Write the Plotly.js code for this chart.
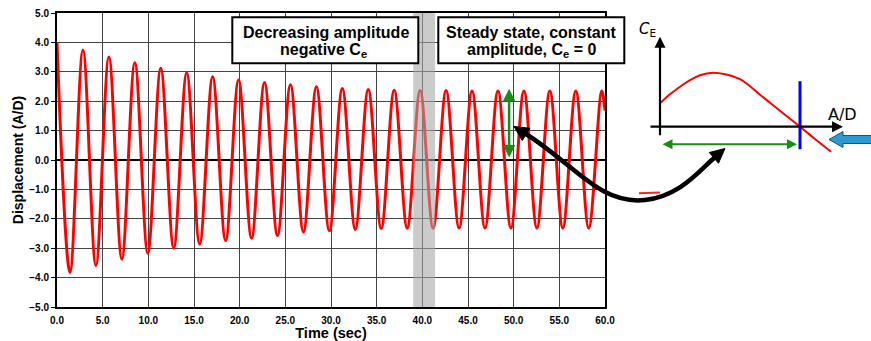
<!DOCTYPE html>
<html>
<head>
<meta charset="utf-8">
<script src="https://cdn.plot.ly/plotly-3.0.1.min.js"></script>
<style>html,body{margin:0;padding:0;background:#fff;}#chart{width:871px;height:341px;}</style>
</head>
<body>
<div id="chart"></div>
<script>
// ---- Data ----
// Times (s) of the successive peaks/troughs of the response, plus the final sample
const timeSec = [0, 1.42, 2.84, 4.26, 5.68, 7.10, 8.52, 9.94, 11.36, 12.78, 14.20, 15.62,
  17.04, 18.46, 19.88, 21.30, 22.72, 24.14, 25.56, 26.98, 28.40, 29.82, 31.24, 32.66,
  34.08, 35.50, 36.92, 38.34, 39.76, 41.18, 42.60, 44.02, 45.44, 46.86, 48.28, 49.70,
  51.12, 52.54, 53.96, 55.38, 56.80, 58.22, 59.64, 60.0];
// Displacement (A/D) at those times
const displacement = [4.00, -3.83, 3.74, -3.59, 3.50, -3.37, 3.31, -3.17, 3.12, -3.00, 2.97, -2.86,
  2.83, -2.74, 2.72, -2.66, 2.64, -2.57, 2.56, -2.45, 2.49, -2.41, 2.43, -2.36,
  2.40, -2.33, 2.37, -2.32, 2.36, -2.32, 2.36, -2.31, 2.35, -2.31, 2.35, -2.31,
  2.35, -2.31, 2.35, -2.31, 2.35, -2.31, 2.35, 1.68];
// Inset: C_E versus A/D curve
const insetAD = [0.0, 0.1, 0.2, 0.3, 0.4, 0.53, 0.65, 0.8, 0.9, 1.0, 1.1, 1.2, 1.3, 1.4, 1.55, 1.71];
const insetCE = [0.47, 0.65, 0.80, 0.93, 1.03, 1.08, 1.05, 0.95, 0.81, 0.64, 0.48, 0.32, 0.16, 0.0, -0.245, -0.50];
// Tick settings / labels
const xTickStep = 5, yTickStep = 1;
const box1Lines = ['Decreasing amplitude', 'negative C<sub>e</sub>'];
const box2Lines = ['Steady state, constant', 'amplitude, C<sub>e</sub> = 0'];

// ---- Layout helpers (pixel -> paper) ----
const L = 57, T = 13, PW = 871 - L, PH = 294;
const px = p => (p - L) / PW;
const py = p => (T + PH - p) / PH;
const P = (x, y) => px(x).toFixed(5) + ',' + py(y).toFixed(5);

const boldFont = {family: 'Liberation Sans, Arial, sans-serif', color: '#000', weight: 700};

const traces = [
  {x: timeSec, y: displacement, type: 'scatter', mode: 'lines',
   line: {color: '#ff0000', width: 3, shape: 'spline', smoothing: 1},
   xaxis: 'x', yaxis: 'y', hoverinfo: 'skip'},
  {x: insetAD, y: insetCE, type: 'scatter', mode: 'lines',
   line: {color: '#ff0000', width: 2, shape: 'spline', smoothing: 1},
   xaxis: 'x2', yaxis: 'y2', hoverinfo: 'skip'}
];

const shapes = [
  // grey band
  {type: 'rect', xref: 'x', yref: 'y', x0: 39.0, x1: 41.4, y0: -5, y1: 5,
   fillcolor: 'rgba(165,165,165,0.58)', line: {width: 0}, layer: 'above'},
  // text boxes
  {type: 'rect', xref: 'paper', yref: 'paper', x0: px(232.3), x1: px(418.3), y0: py(17.3), y1: py(63.3),
   fillcolor: '#fff', line: {color: '#000', width: 2}, layer: 'above'},
  {type: 'rect', xref: 'paper', yref: 'paper', x0: px(438.3), x1: px(624.3), y0: py(17.3), y1: py(63.3),
   fillcolor: '#fff', line: {color: '#000', width: 2}, layer: 'above'},
  // inset blue vertical line
  {type: 'line', xref: 'x2', yref: 'y2', x0: 1.4, x1: 1.4, y0: 0.91, y1: -0.45,
   line: {color: '#0000ff', width: 3}},
  // stray red dash
  {type: 'line', xref: 'paper', yref: 'paper', x0: px(639), y0: py(193.3), x1: px(660), y1: py(192.6),
   line: {color: '#ff2020', width: 2}},
  // black curved arrow
  {type: 'path', xref: 'paper', yref: 'paper',
   path: 'M ' + P(526, 134) + ' C ' + P(575, 165) + ' ' + P(600, 205) + ' ' + P(645, 200) +
         ' C ' + P(680, 196) + ' ' + P(699, 171) + ' ' + P(714, 158),
   line: {color: '#000', width: 4.5}},
  {type: 'path', xref: 'paper', yref: 'paper',
   path: 'M ' + P(514, 126.5) + ' L ' + P(530, 128.3) + ' L ' + P(522.3, 140.5) + ' Z',
   fillcolor: '#000', line: {color: '#000', width: 1}},
  {type: 'path', xref: 'paper', yref: 'paper',
   path: 'M ' + P(725, 148.5) + ' L ' + P(718.5, 163.3) + ' L ' + P(709.3, 152.5) + ' Z',
   fillcolor: '#000', line: {color: '#000', width: 1}},
  // blue block arrow
  {type: 'path', xref: 'paper', yref: 'paper',
   path: 'M ' + P(829, 139.5) + ' L ' + P(843, 131.5) + ' L ' + P(843, 135.5) + ' L ' + P(873, 135.5) +
         ' L ' + P(873, 143.5) + ' L ' + P(843, 143.5) + ' L ' + P(843, 147.5) + ' Z',
   fillcolor: '#2a9bd0', line: {color: '#1f4f78', width: 1}}
];

const boxText = (txt, cx, cy) => ({xref: 'paper', yref: 'paper', x: px(cx), y: py(cy),
  xanchor: 'center', yanchor: 'middle', text: txt, showarrow: false,
  font: Object.assign({size: 16}, boldFont)});

const annotations = [
  boxText(box1Lines[0], 325.5, 32.3),
  boxText(box1Lines[1], 323.5, 50.3),
  boxText(box2Lines[0], 531, 32.3),
  boxText(box2Lines[1], 531.5, 50.3),
  // green amplitude arrow in main plot
  {xref: 'x', yref: 'y', axref: 'x', ayref: 'y', x: 49.5, y: 2.42, ax: 49.5, ay: 0.03,
   text: '', showarrow: true, arrowside: 'end+start', arrowhead: 2, arrowsize: 1,
   arrowwidth: 2.5, arrowcolor: '#1a8c1a', standoff: 0, startstandoff: 0},
  // inset axes
  {xref: 'x2', yref: 'y2', axref: 'x2', ayref: 'y2', x: 0, y: 1.80, ax: 0, ay: -0.2,
   text: '', showarrow: true, arrowhead: 2, arrowsize: 1, arrowwidth: 2.2, arrowcolor: '#000', standoff: 0},
  {xref: 'x2', yref: 'y2', axref: 'x2', ayref: 'y2', x: 1.83, y: 0, ax: -0.11, ay: 0,
   text: '', showarrow: true, arrowhead: 2, arrowsize: 1, arrowwidth: 2.2, arrowcolor: '#000', standoff: 0},
  // inset green arrow
  {xref: 'x2', yref: 'y2', axref: 'x2', ayref: 'y2', x: 1.37, y: -0.35, ax: 0.01, ay: -0.35,
   text: '', showarrow: true, arrowside: 'end+start', arrowhead: 2, arrowsize: 1,
   arrowwidth: 2, arrowcolor: '#1a8c1a', standoff: 0, startstandoff: 0},
  // inset labels
  {xref: 'paper', yref: 'paper', x: px(647), y: py(30), xanchor: 'center', yanchor: 'middle',
   text: '<i>C</i><sub>E</sub>', showarrow: false,
   font: {family: 'DejaVu Sans, sans-serif', size: 15, color: '#000'}},
  {xref: 'paper', yref: 'paper', x: px(842), y: py(114), xanchor: 'center', yanchor: 'middle',
   text: 'A/D', showarrow: false,
   font: {family: 'DejaVu Sans, sans-serif', size: 16, color: '#000'}}
];

const layout = {
  width: 871, height: 341,
  margin: {l: L, r: 0, t: T, b: 341 - T - PH, pad: 0},
  paper_bgcolor: '#fff', plot_bgcolor: '#fff',
  showlegend: false,
  xaxis: {
    domain: [0, (605 - L) / PW], range: [0, 60], dtick: xTickStep, tick0: 0,
    tickformat: '.1f', showgrid: true, gridcolor: '#444', gridwidth: 1,
    zeroline: false, showline: true, linecolor: '#000', linewidth: 2, mirror: true,
    ticks: 'outside', ticklen: 3, tickcolor: '#fff', tickfont: Object.assign({size: 10}, boldFont),
    title: {text: 'Time (sec)', font: Object.assign({size: 14.5}, boldFont), standoff: 4},
    fixedrange: true
  },
  yaxis: {
    range: [-5, 5], dtick: yTickStep, tick0: 0, tickformat: '.1f',
    showgrid: true, gridcolor: '#444', gridwidth: 1,
    zeroline: true, zerolinecolor: '#000', zerolinewidth: 2,
    showline: true, linecolor: '#000', linewidth: 2, mirror: true,
    ticks: 'outside', ticklen: 4, tickcolor: '#000', tickfont: Object.assign({size: 10}, boldFont),
    title: {text: 'Displacement (A/D)', font: Object.assign({size: 14}, boldFont), standoff: 2},
    fixedrange: true
  },
  xaxis2: {domain: [px(640), px(860)], range: [-0.2, 2.0], visible: false, anchor: 'y2', fixedrange: true},
  yaxis2: {domain: [py(200), py(20)], range: [-1.466, 2.134], visible: false, anchor: 'x2', fixedrange: true},
  shapes: shapes,
  annotations: annotations
};

Plotly.newPlot('chart', traces, layout, {displayModeBar: false, staticPlot: true});
</script>
</body>
</html>
